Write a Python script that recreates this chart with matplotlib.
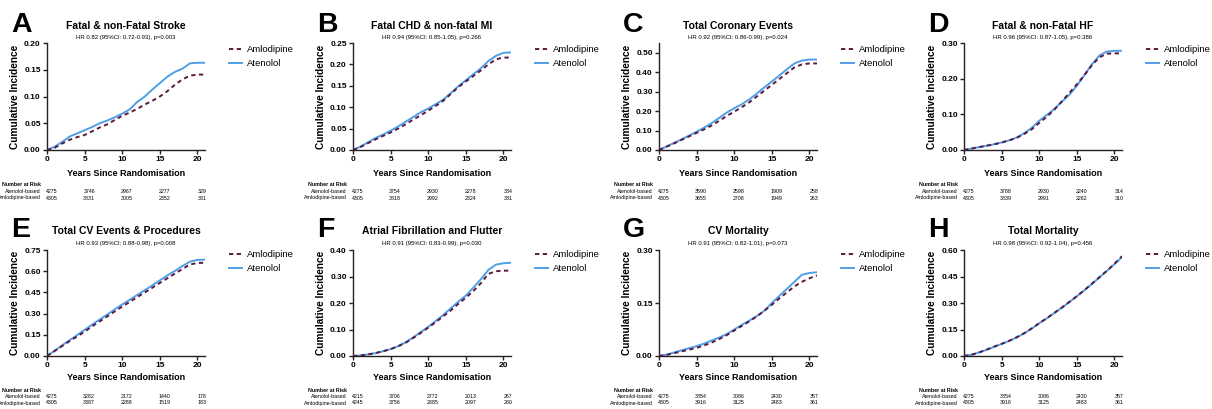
# -*- coding: utf-8 -*-
# Cumulative incidence panels, Amlodipine vs Atenolol (8 outcomes)

import matplotlib
matplotlib.use("Agg")
import matplotlib.pyplot as plt
import matplotlib.transforms as mtransforms

plt.rcParams["font.family"] = ["Liberation Sans", "DejaVu Sans"]

# ----------------
# Data
# ----------------

YEARS = list(range(0, 22))
RISK_YEARS = [0, 5, 10, 15, 20]

A_AMLO = [0, 0.004, 0.012, 0.019, 0.024, 0.028, 0.035, 0.042, 0.048, 0.056, 0.064,
          0.070, 0.077, 0.085, 0.092, 0.100, 0.110, 0.122, 0.132, 0.139, 0.141, 0.141]
A_ATEN = [0, 0.006, 0.015, 0.025, 0.031, 0.037, 0.043, 0.050, 0.055, 0.061, 0.068,
          0.076, 0.090, 0.100, 0.113, 0.125, 0.137, 0.146, 0.152, 0.162, 0.163, 0.163]

B_AMLO = [0, 0.007, 0.016, 0.025, 0.033, 0.041, 0.050, 0.060, 0.071, 0.081, 0.092,
          0.103, 0.115, 0.131, 0.147, 0.160, 0.173, 0.186, 0.200, 0.212, 0.216, 0.216]
B_ATEN = [0, 0.008, 0.018, 0.028, 0.036, 0.045, 0.055, 0.066, 0.077, 0.088, 0.097,
          0.107, 0.118, 0.133, 0.149, 0.163, 0.177, 0.191, 0.208, 0.220, 0.227, 0.228]

C_AMLO = [0, 0.017, 0.034, 0.052, 0.070, 0.088, 0.106, 0.126, 0.150, 0.175, 0.197,
          0.220, 0.245, 0.275, 0.305, 0.335, 0.365, 0.395, 0.425, 0.440, 0.445, 0.445]
C_ATEN = [0, 0.018, 0.036, 0.055, 0.074, 0.094, 0.115, 0.138, 0.165, 0.192, 0.215,
          0.235, 0.260, 0.290, 0.322, 0.352, 0.383, 0.415, 0.445, 0.460, 0.465, 0.465]

D_AMLO = [0, 0.004, 0.008, 0.012, 0.016, 0.021, 0.027, 0.034, 0.045, 0.058, 0.076,
          0.093, 0.113, 0.136, 0.160, 0.184, 0.210, 0.238, 0.260, 0.270, 0.271, 0.271]
D_ATEN = [0, 0.004, 0.008, 0.012, 0.016, 0.021, 0.027, 0.035, 0.047, 0.062, 0.082,
          0.098, 0.115, 0.135, 0.155, 0.180, 0.210, 0.240, 0.265, 0.276, 0.278, 0.278]

E_AMLO = [0, 0.035, 0.070, 0.105, 0.138, 0.172, 0.210, 0.245, 0.280, 0.315, 0.350,
          0.383, 0.417, 0.450, 0.483, 0.517, 0.550, 0.583, 0.615, 0.648, 0.658, 0.660]
E_ATEN = [0, 0.037, 0.075, 0.112, 0.148, 0.185, 0.222, 0.258, 0.293, 0.330, 0.365,
          0.398, 0.432, 0.466, 0.500, 0.535, 0.570, 0.602, 0.636, 0.668, 0.680, 0.682]

F_AMLO = [0, 0.002, 0.006, 0.011, 0.018, 0.026, 0.037, 0.050, 0.068, 0.087, 0.107,
          0.128, 0.150, 0.172, 0.197, 0.220, 0.245, 0.275, 0.310, 0.320, 0.322, 0.322]
F_ATEN = [0, 0.002, 0.006, 0.011, 0.018, 0.026, 0.037, 0.052, 0.070, 0.090, 0.110,
          0.132, 0.155, 0.180, 0.205, 0.228, 0.258, 0.290, 0.325, 0.345, 0.350, 0.352]

G_AMLO = [0, 0.003, 0.008, 0.013, 0.018, 0.023, 0.030, 0.038, 0.048, 0.059, 0.072,
          0.085, 0.098, 0.112, 0.128, 0.145, 0.163, 0.180, 0.197, 0.210, 0.220, 0.228]
G_ATEN = [0, 0.004, 0.010, 0.016, 0.022, 0.028, 0.035, 0.044, 0.052, 0.062, 0.075,
          0.088, 0.100, 0.113, 0.128, 0.150, 0.170, 0.190, 0.210, 0.230, 0.235, 0.237]

H_AMLO = [0, 0.007, 0.020, 0.036, 0.053, 0.069, 0.086, 0.106, 0.129, 0.156, 0.186,
          0.214, 0.244, 0.274, 0.306, 0.339, 0.373, 0.409, 0.446, 0.483, 0.522, 0.565]
H_ATEN = [0, 0.007, 0.020, 0.035, 0.052, 0.068, 0.085, 0.105, 0.128, 0.155, 0.185,
          0.213, 0.243, 0.273, 0.305, 0.338, 0.372, 0.408, 0.445, 0.482, 0.520, 0.560]

LETTERS = ["A", "B", "C", "D", "E", "F", "G", "H"]
TITLES = [
    "Fatal & non-Fatal Stroke",
    "Fatal CHD & non-fatal MI",
    "Total Coronary Events",
    "Fatal & non-Fatal HF",
    "Total CV Events & Procedures",
    "Atrial Fibrillation and Flutter",
    "CV Mortality",
    "Total Mortality",
]
HR_TEXT = [
    "HR 0.82 (95%CI: 0.72-0.93), p=0.003",
    "HR 0.94 (95%CI: 0.85-1.05), p=0.266",
    "HR 0.92 (95%CI: 0.86-0.99), p=0.024",
    "HR 0.96 (95%CI: 0.87-1.05), p=0.386",
    "HR 0.93 (95%CI: 0.88-0.98), p=0.008",
    "HR 0.91 (95%CI: 0.83-0.99), p=0.030",
    "HR 0.91 (95%CI: 0.82-1.01), p=0.073",
    "HR 0.98 (95%CI: 0.92-1.04), p=0.456",
]
AMLO = [A_AMLO, B_AMLO, C_AMLO, D_AMLO, E_AMLO, F_AMLO, G_AMLO, H_AMLO]
ATEN = [A_ATEN, B_ATEN, C_ATEN, D_ATEN, E_ATEN, F_ATEN, G_ATEN, H_ATEN]

RISK_ATEN = [
    [4275, 3746, 2967, 2277, 329],
    [4275, 3754, 2930, 2278, 334],
    [4275, 3590, 2598, 1909, 258],
    [4275, 3788, 2930, 2240, 314],
    [4275, 3282, 2172, 1440, 178],
    [4215, 3706, 2772, 2013, 267],
    [4275, 3854, 3086, 2430, 357],
    [4275, 3854, 3086, 2430, 357],
]
RISK_AMLO = [
    [4305, 3831, 3005, 2352, 331],
    [4305, 3818, 2992, 2324, 331],
    [4305, 3655, 2708, 1949, 263],
    [4305, 3839, 2991, 2262, 310],
    [4305, 3387, 2288, 1519, 183],
    [4245, 3756, 2885, 2097, 280],
    [4305, 3916, 3125, 2483, 361],
    [4305, 3916, 3125, 2483, 361],
]

# axis ranges: (ymax, ytick step)
Y_RANGES = [(0.20, 0.05), (0.25, 0.05), (0.55, 0.10), (0.30, 0.10),
            (0.75, 0.15), (0.40, 0.10), (0.30, 0.15), (0.60, 0.15)]
Y_TICK_MAX = [0.20, 0.25, 0.50, 0.30, 0.75, 0.40, 0.30, 0.60]

# ----------------
# Layout (pixels)
# ----------------

W, H = 1212, 409
AX_LEFTS = [47, 353, 659, 964]
AX_W = 158
ROW_TOP = [43, 250]
ROW_BOT = [150, 356]

BLUE = "#4f9ee8"
MAROON = "#5a1a3e"
DARK = "#222222"


def fx(px):
    return px / W


def fy(py):
    return 1 - py / H


def plot_panel(fig, i):
    row, col = divmod(i, 4)
    left = AX_LEFTS[col]
    top, bot = ROW_TOP[row], ROW_BOT[row]
    ax = fig.add_axes([fx(left), fy(bot), fx(AX_W), (bot - top) / H])

    ax.plot(YEARS, ATEN[i], color=BLUE, lw=1.4, label="Atenolol", zorder=2)
    ax.plot(YEARS, AMLO[i], color=MAROON, lw=1.4, dashes=(2.2, 1.8),
            label="Amlodipine", zorder=3)

    ymax, step = Y_RANGES[i]
    n = int(round(Y_TICK_MAX[i] / step))
    ax.set_xlim(0, 21)
    ax.set_ylim(0, ymax)
    ax.set_xticks(RISK_YEARS)
    ax.set_yticks([k * step for k in range(n + 1)])
    ax.set_yticklabels([f"{k * step:.2f}" for k in range(n + 1)])

    for s in ("top", "right"):
        ax.spines[s].set_visible(False)
    for s in ("left", "bottom"):
        ax.spines[s].set_color(DARK)
        ax.spines[s].set_linewidth(1.0)
    ax.tick_params(direction="out", length=3, width=1.0, color=DARK,
                   labelsize=6, pad=1.5, labelcolor="black")
    for lab in ax.get_xticklabels() + ax.get_yticklabels():
        lab.set_fontweight("bold")
    ax.set_ylabel("Cumulative Incidence", fontsize=7.3, fontweight="bold", labelpad=3)

    cx = left + AX_W / 2
    yo = 0 if row == 0 else 205
    fig.text(fx(left - 36), fy(yo + 32), LETTERS[i], fontsize=20.5,
             fontweight="bold", ha="left", va="baseline")
    fig.text(fx(cx), fy(yo + 26), TITLES[i], fontsize=7.5, fontweight="bold",
             ha="center", va="center")
    fig.text(fx(cx), fy(yo + 38), HR_TEXT[i], fontsize=4.3,
             ha="center", va="center")
    fig.text(fx(cx), fy(yo + 173), "Years Since Randomisation", fontsize=6.5,
             fontweight="bold", ha="center", va="center")

    # legend, ordered as in the figure
    handles, labels = ax.get_legend_handles_labels()
    ax.legend(handles[::-1], labels[::-1], loc="upper left",
              bbox_to_anchor=(fx(left + AX_W + 24), fy(yo + 45)),
              bbox_transform=fig.transFigure, frameon=False, fontsize=6.8,
              handlelength=1.35, handletextpad=0.55, labelspacing=0.55,
              borderpad=0, borderaxespad=0)

    # number at risk table
    trans = mtransforms.blended_transform_factory(ax.transData, fig.transFigure)
    lx = fx(left - 6)
    fig.text(lx, fy(yo + 185), "Number at Risk", fontsize=3.8,
             fontweight="bold", ha="right", va="center")
    fig.text(lx, fy(yo + 192), "Atenolol-based", fontsize=3.8,
             ha="right", va="center")
    fig.text(lx, fy(yo + 198), "Amlodipine-based", fontsize=3.8,
             ha="right", va="center")
    for yr, a, b in zip(RISK_YEARS, RISK_ATEN[i], RISK_AMLO[i]):
        ax.text(yr + 0.6, fy(yo + 192), str(a), transform=trans, fontsize=3.8,
                ha="center", va="center", clip_on=False)
        ax.text(yr + 0.6, fy(yo + 198), str(b), transform=trans, fontsize=3.8,
                ha="center", va="center", clip_on=False)
    return ax


def main():
    fig = plt.figure(figsize=(W / 100, H / 100), dpi=100)
    for i in range(8):
        plot_panel(fig, i)
    fig.savefig("out.png", dpi=100)


if __name__ == "__main__":
    main()
